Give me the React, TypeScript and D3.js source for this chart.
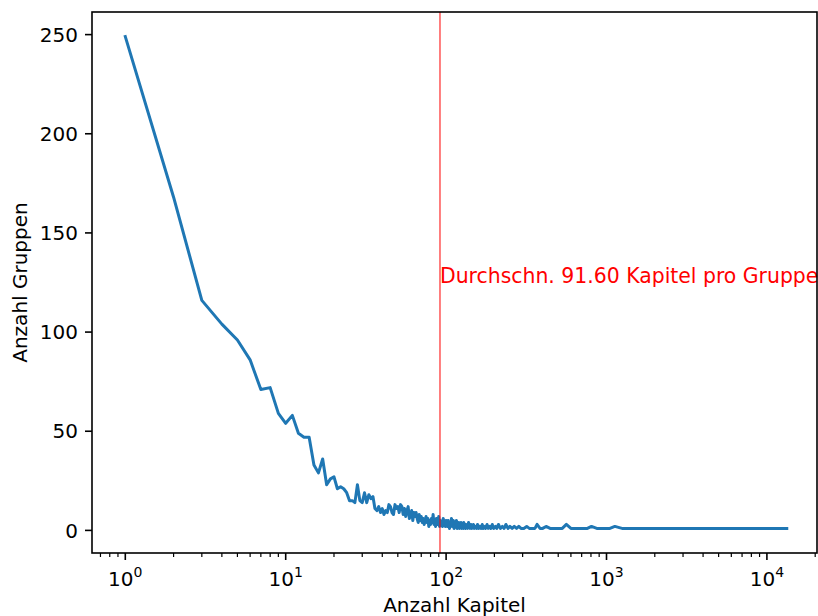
import React, { useEffect, useRef } from 'react';
import * as d3 from 'd3';

// number of chapters per group (x) and how many groups have that many chapters (y)
const kapitel = [
  1, 2, 3, 4, 5, 6, 7, 8, 9, 10, 11, 12, 13, 14, 15, 16, 17, 18, 19, 20,
  21, 22, 23, 24, 25, 26, 27, 28, 29, 30, 31, 32, 33, 34, 35, 36, 37, 38, 39, 40,
  41, 42, 43, 44, 45, 46, 47, 48, 49, 50, 51, 52, 53, 54, 55, 56, 57, 58, 59, 60,
  61, 62, 63, 64, 65, 66, 67, 68, 69, 70, 71, 72, 73, 74, 75, 76, 77, 78, 79, 80,
  81, 82, 83, 84, 85, 86, 87, 88, 89, 90, 91, 92, 93, 94, 95, 96, 97, 98, 99, 100,
  101, 102, 103, 104, 105, 106, 107, 108, 109, 110, 111, 112, 113, 114, 115, 116, 117, 118, 119, 120,
  121, 122, 123, 124, 125, 126, 127, 128, 129, 130, 132, 133, 135, 136, 138, 140, 141, 143, 145, 147,
  148, 150, 152, 155, 157, 160, 162, 165, 168, 170, 173, 176, 180, 183, 187, 190, 194, 198, 203, 207,
  212, 218, 224, 230, 236, 243, 250, 258, 266, 275, 284, 293, 305, 318, 330, 345, 358, 369, 385, 400,
  420, 445, 470, 500, 530, 562, 600, 650, 700, 760, 806, 870, 950, 1050, 1127, 1250, 1400, 1600, 1850, 2150,
  2600, 3200, 4100, 5400, 7300, 9800, 13300,
];

const gruppen = [
  249, 168, 116, 104, 96, 86, 71, 72, 59, 54, 58, 49, 47, 47, 33, 29, 36, 23, 26, 27,
  21, 22, 21, 19, 15, 15, 14, 23, 15, 14, 19, 14, 18, 16, 17, 11, 10, 12, 9, 11,
  8, 10, 9, 13, 12, 9, 8, 13, 11, 12, 9, 13, 12, 8, 11, 7, 10, 12, 6, 8,
  10, 5, 9, 7, 9, 6, 4, 8, 5, 7, 4, 6, 3, 5, 7, 4, 6, 2, 5, 3,
  6, 4, 8, 3, 5, 2, 6, 4, 3, 7, 2, 5, 3, 4, 2, 6, 3, 4, 2, 5,
  4, 2, 5, 3, 1, 4, 2, 6, 3, 2, 5, 1, 3, 4, 2, 5, 1, 3, 2, 4,
  1, 3, 2, 4, 1, 2, 3, 1, 4, 2, 1, 3, 2, 1, 4, 2, 1, 3, 1, 2,
  3, 1, 2, 1, 3, 1, 2, 1, 3, 1, 2, 1, 3, 1, 2, 1, 3, 1, 2, 1,
  3, 1, 2, 1, 3, 1, 2, 1, 2, 1, 2, 1, 1, 2, 1, 1, 1, 3, 1, 1,
  2, 1, 1, 1, 1, 3, 1, 1, 1, 1, 2, 1, 1, 1, 2, 1, 1, 1, 1, 1,
  1, 1, 1, 1, 1, 1, 1,
];

const yTicks = [0, 50, 100, 150, 200, 250];
const xMajorExp = [0, 1, 2, 3, 4];
const durchschnitt = 91.6;
const durchschnittText = 'Durchschn. 91.60 Kapitel pro Gruppe';
const xLabel = 'Anzahl Kapitel';
const yLabel = 'Anzahl Gruppen';

const W = 818;
const H = 616;
const FONT = '"DejaVu Sans", sans-serif';

export default function App() {
  const svgRef = useRef<SVGSVGElement>(null);

  useEffect(() => {
    if (!svgRef.current) return;
    const svg = d3.select(svgRef.current);
    svg.selectAll('*').remove();

    const left = 92, right = 817, top = 12, bottom = 553;

    const x = d3.scaleLog().domain([Math.pow(10, -0.2076), Math.pow(10, 4.3123)]).range([left, right]);
    const y = d3.scaleLinear().domain([-11.4, 261.4]).range([bottom, top]);

    const data = kapitel.map((k, i) => ({ k, g: gruppen[i] }));

    // line
    const line = d3.line<{ k: number; g: number }>()
      .x(d => x(d.k))
      .y(d => y(d.g));

    svg.append('path')
      .datum(data)
      .attr('fill', 'none')
      .attr('stroke', '#1f77b4')
      .attr('stroke-width', 3)
      .attr('stroke-linejoin', 'round')
      .attr('stroke-linecap', 'square')
      .attr('d', line);

    // average marker
    svg.append('line')
      .attr('x1', x(durchschnitt)).attr('x2', x(durchschnitt))
      .attr('y1', top).attr('y2', bottom)
      .attr('stroke', 'red')
      .attr('stroke-width', 1);

    svg.append('text')
      .attr('x', x(durchschnitt))
      .attr('y', y(125))
      .attr('fill', 'red')
      .attr('font-family', FONT)
      .attr('font-size', 20.4)
      .text(durchschnittText);

    // spines
    svg.append('rect')
      .attr('x', left).attr('y', top)
      .attr('width', right - left).attr('height', bottom - top)
      .attr('fill', 'none')
      .attr('stroke', 'black')
      .attr('stroke-width', 1.6);

    // y ticks
    const yg = svg.append('g');
    yTicks.forEach(t => {
      yg.append('line')
        .attr('x1', left - 7).attr('x2', left)
        .attr('y1', y(t)).attr('y2', y(t))
        .attr('stroke', 'black').attr('stroke-width', 1.6);
      yg.append('text')
        .attr('x', 78).attr('y', y(t)).attr('dy', '0.36em')
        .attr('text-anchor', 'end')
        .attr('font-family', FONT).attr('font-size', 20)
        .text(t);
    });

    // x ticks (major + minor)
    const xg = svg.append('g');
    const [d0, d1] = x.domain();
    for (let e = -1; e <= 4; e++) {
      for (let m = 2; m <= 9; m++) {
        const v = m * Math.pow(10, e);
        if (v < d0 || v > d1) continue;
        xg.append('line')
          .attr('x1', x(v)).attr('x2', x(v))
          .attr('y1', bottom).attr('y2', bottom + 4)
          .attr('stroke', 'black').attr('stroke-width', 1.2);
      }
    }
    xMajorExp.forEach(e => {
      const v = Math.pow(10, e);
      xg.append('line')
        .attr('x1', x(v)).attr('x2', x(v))
        .attr('y1', bottom).attr('y2', bottom + 7)
        .attr('stroke', 'black').attr('stroke-width', 1.6);
      const t = xg.append('text')
        .attr('x', x(v)).attr('y', 586)
        .attr('text-anchor', 'middle')
        .attr('font-family', FONT).attr('font-size', 20);
      t.append('tspan').text('10');
      t.append('tspan').attr('font-size', 14).attr('dy', -9).text(String(e));
    });

    // axis labels
    svg.append('text')
      .attr('x', (left + right) / 2).attr('y', 612)
      .attr('text-anchor', 'middle')
      .attr('font-family', FONT).attr('font-size', 20)
      .text(xLabel);

    svg.append('text')
      .attr('transform', `translate(27,${(top + bottom) / 2}) rotate(-90)`)
      .attr('text-anchor', 'middle')
      .attr('font-family', FONT).attr('font-size', 20)
      .text(yLabel);
  }, []);

  return (
    <svg
      ref={svgRef}
      width={W}
      height={H}
      style={{ position: 'absolute', left: 0, top: 0, background: 'white' }}
    />
  );
}
